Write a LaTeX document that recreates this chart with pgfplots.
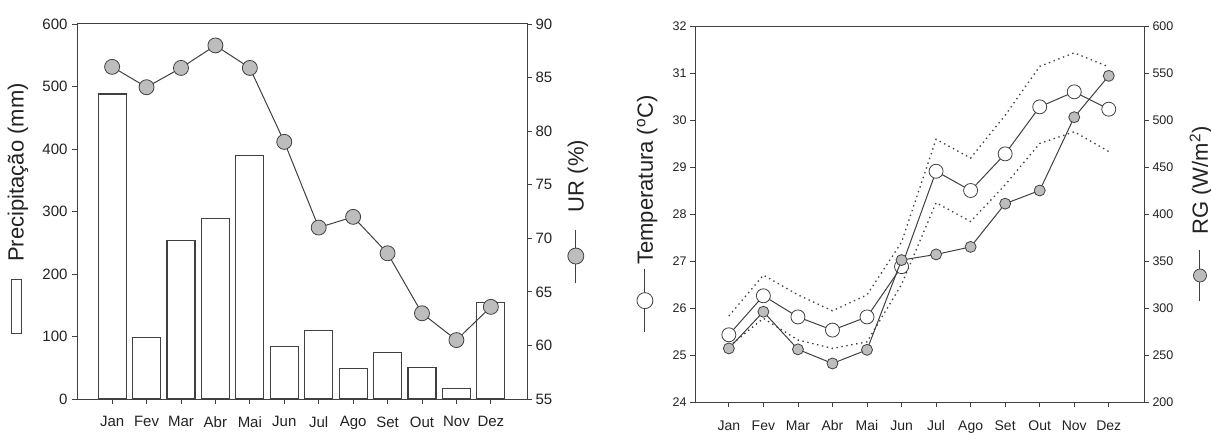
\documentclass[border=0pt]{standalone}
\usepackage{fontspec}
\setmainfont{Liberation Sans}
\usepackage{pgfplots}
\pgfplotsset{compat=1.18}
\definecolor{ax}{HTML}{404040}
\definecolor{mk}{HTML}{BDBDBD}
\definecolor{tl}{HTML}{222222}
\pgfplotsset{
  base/.style={scale only axis, clip=false,
    axis line style={ax, line width=1pt},
    tick style={ax, line width=0.8pt},
    tick align=outside, major tick length=5pt,
    /pgf/number format/assume math mode=true,
    ticklabel style={text=tl},
    label style={text=tl},
  },
}
\begin{document}
\begin{tikzpicture}
\useasboundingbox (0,0) rectangle (1211pt,432pt);
% ---------------- left panel: precipitation ----------------
\begin{axis}[base, at={(77pt,33pt)}, anchor=south west, width=450pt, height=375pt,
  xmin=-1.02, xmax=12.05, ymin=0, ymax=600,
  xtick={0,...,11}, xticklabels={Jan,Fev,Mar,Abr,Mai,Jun,Jul,Ago,Set,Out,Nov,Dez},
  xtick pos=left, ytick pos=left, ytick={0,100,...,600},
  xticklabel style={font=\fontsize{15}{17}\selectfont, yshift=-9pt},
  yticklabel style={font=\fontsize{15}{17}\selectfont, xshift=-1pt},
  ylabel={\textcolor{ax}{\setlength{\fboxsep}{0pt}\setlength{\fboxrule}{1pt}\raisebox{3pt}{\fbox{\rule{0pt}{9pt}\rule{53pt}{0pt}}}}\hspace{17pt}Precipitação (mm)},
  ylabel style={at={(axis description cs:-0.131,0.508)}, anchor=center, font=\fontsize{22}{24}\selectfont},
]
\addplot[ybar, bar width=28pt, fill=white, draw=ax, line width=1.2pt] coordinates {
 (0,488) (1,99) (2,254) (3,289) (4,389) (5,84) (6,110) (7,49) (8,74) (9,50) (10,17) (11,155)};
\end{axis}
\begin{axis}[base, at={(77pt,33pt)}, anchor=south west, width=450pt, height=375pt,
  xmin=-1.02, xmax=12.05, ymin=55, ymax=90,
  axis y line*=right, axis x line=none, ytick={55,60,...,90},
  yticklabel style={font=\fontsize{15}{17}\selectfont},
  ylabel={\tikz[baseline={(0,-7.9pt)}]{\draw[ax,line width=1pt] (0,0)--(53pt,0); \draw[ax,fill=mk,line width=0.8pt] (26.5pt,0) circle (8pt);}\hspace{17pt}UR (\%)},
  ylabel style={at={(axis description cs:1.113,0.5)}, anchor=center, font=\fontsize{22}{24}\selectfont},
]
\addplot[ax, line width=1pt, mark=*, mark size=7.5pt, mark options={fill=mk, draw=ax, line width=0.8pt}] coordinates {
 (0,86.0) (1,84.1) (2,85.9) (3,88.0) (4,85.9) (5,79.0) (6,71.0) (7,72.0) (8,68.6) (9,63.0) (10,60.5) (11,63.6)};
\end{axis}
% ---------------- right panel: temperature & radiation ----------------
\begin{axis}[base, at={(695pt,30pt)}, anchor=south west, width=449pt, height=376pt,
  xmin=-0.98, xmax=12.02, ymin=24, ymax=32,
  xtick={0,...,11}, xticklabels={Jan,Fev,Mar,Abr,Mai,Jun,Jul,Ago,Set,Out,Nov,Dez},
  xtick pos=left, ytick pos=left, ytick={24,25,...,32},
  xticklabel style={font=\fontsize{14}{16}\selectfont, yshift=-10pt},
  yticklabel style={font=\fontsize{12.5}{14}\selectfont},
  ylabel={\tikz[baseline={(0,-7.9pt)}]{\draw[ax,line width=1pt] (0,0)--(63pt,0); \draw[ax,fill=white,line width=0.8pt] (31.5pt,0) circle (8pt);}\hspace{4pt}Temperatura (\textsuperscript{o}C)},
  ylabel style={at={(axis description cs:-0.107,0.5)}, anchor=center, font=\fontsize{22}{24}\selectfont},
]
\addplot[ax, line width=1.3pt, dash pattern=on 1.4pt off 3.6pt] coordinates {
 (0,25.83) (1,26.70) (2,26.28) (3,25.94) (4,26.28) (5,27.4) (6,29.59) (7,29.19) (8,30.1) (9,31.14) (10,31.43) (11,31.13)};
\addplot[ax, line width=1.3pt, dash pattern=on 1.4pt off 3.6pt] coordinates {
 (0,25.18) (1,25.78) (2,25.32) (3,25.14) (4,25.28) (5,26.5) (6,28.24) (7,27.84) (8,28.62) (9,29.5) (10,29.75) (11,29.33)};
\addplot[ax, line width=1pt, mark=*, mark size=7pt, mark options={fill=white, draw=ax, line width=0.8pt}] coordinates {
 (0,25.43) (1,26.26) (2,25.81) (3,25.53) (4,25.81) (5,26.88) (6,28.91) (7,28.50) (8,29.28) (9,30.28) (10,30.60) (11,30.23)};
\end{axis}
\begin{axis}[base, at={(695pt,30pt)}, anchor=south west, width=449pt, height=376pt,
  xmin=-0.98, xmax=12.02, ymin=200, ymax=600,
  axis y line*=right, axis x line=none, ytick={200,250,...,600},
  yticklabel style={font=\fontsize{12.5}{14}\selectfont},
  ylabel={\tikz[baseline={(0,-7.9pt)}]{\draw[ax,line width=1pt] (0,0)--(51pt,0); \draw[ax,fill=mk,line width=0.8pt] (25.5pt,0) circle (6.5pt);}\hspace{15pt}RG (W/m\textsuperscript{2})},
  ylabel style={at={(axis description cs:1.127,0.5)}, anchor=center, font=\fontsize{22}{24}\selectfont},
]
\addplot[ax, line width=1pt, mark=*, mark size=5.5pt, mark options={fill=mk, draw=ax, line width=0.8pt}] coordinates {
 (0,257) (1,296) (2,256) (3,241) (4,255.5) (5,351) (6,357) (7,365) (8,411) (9,425) (10,503) (11,547)};
\end{axis}
\end{tikzpicture}
\end{document}
